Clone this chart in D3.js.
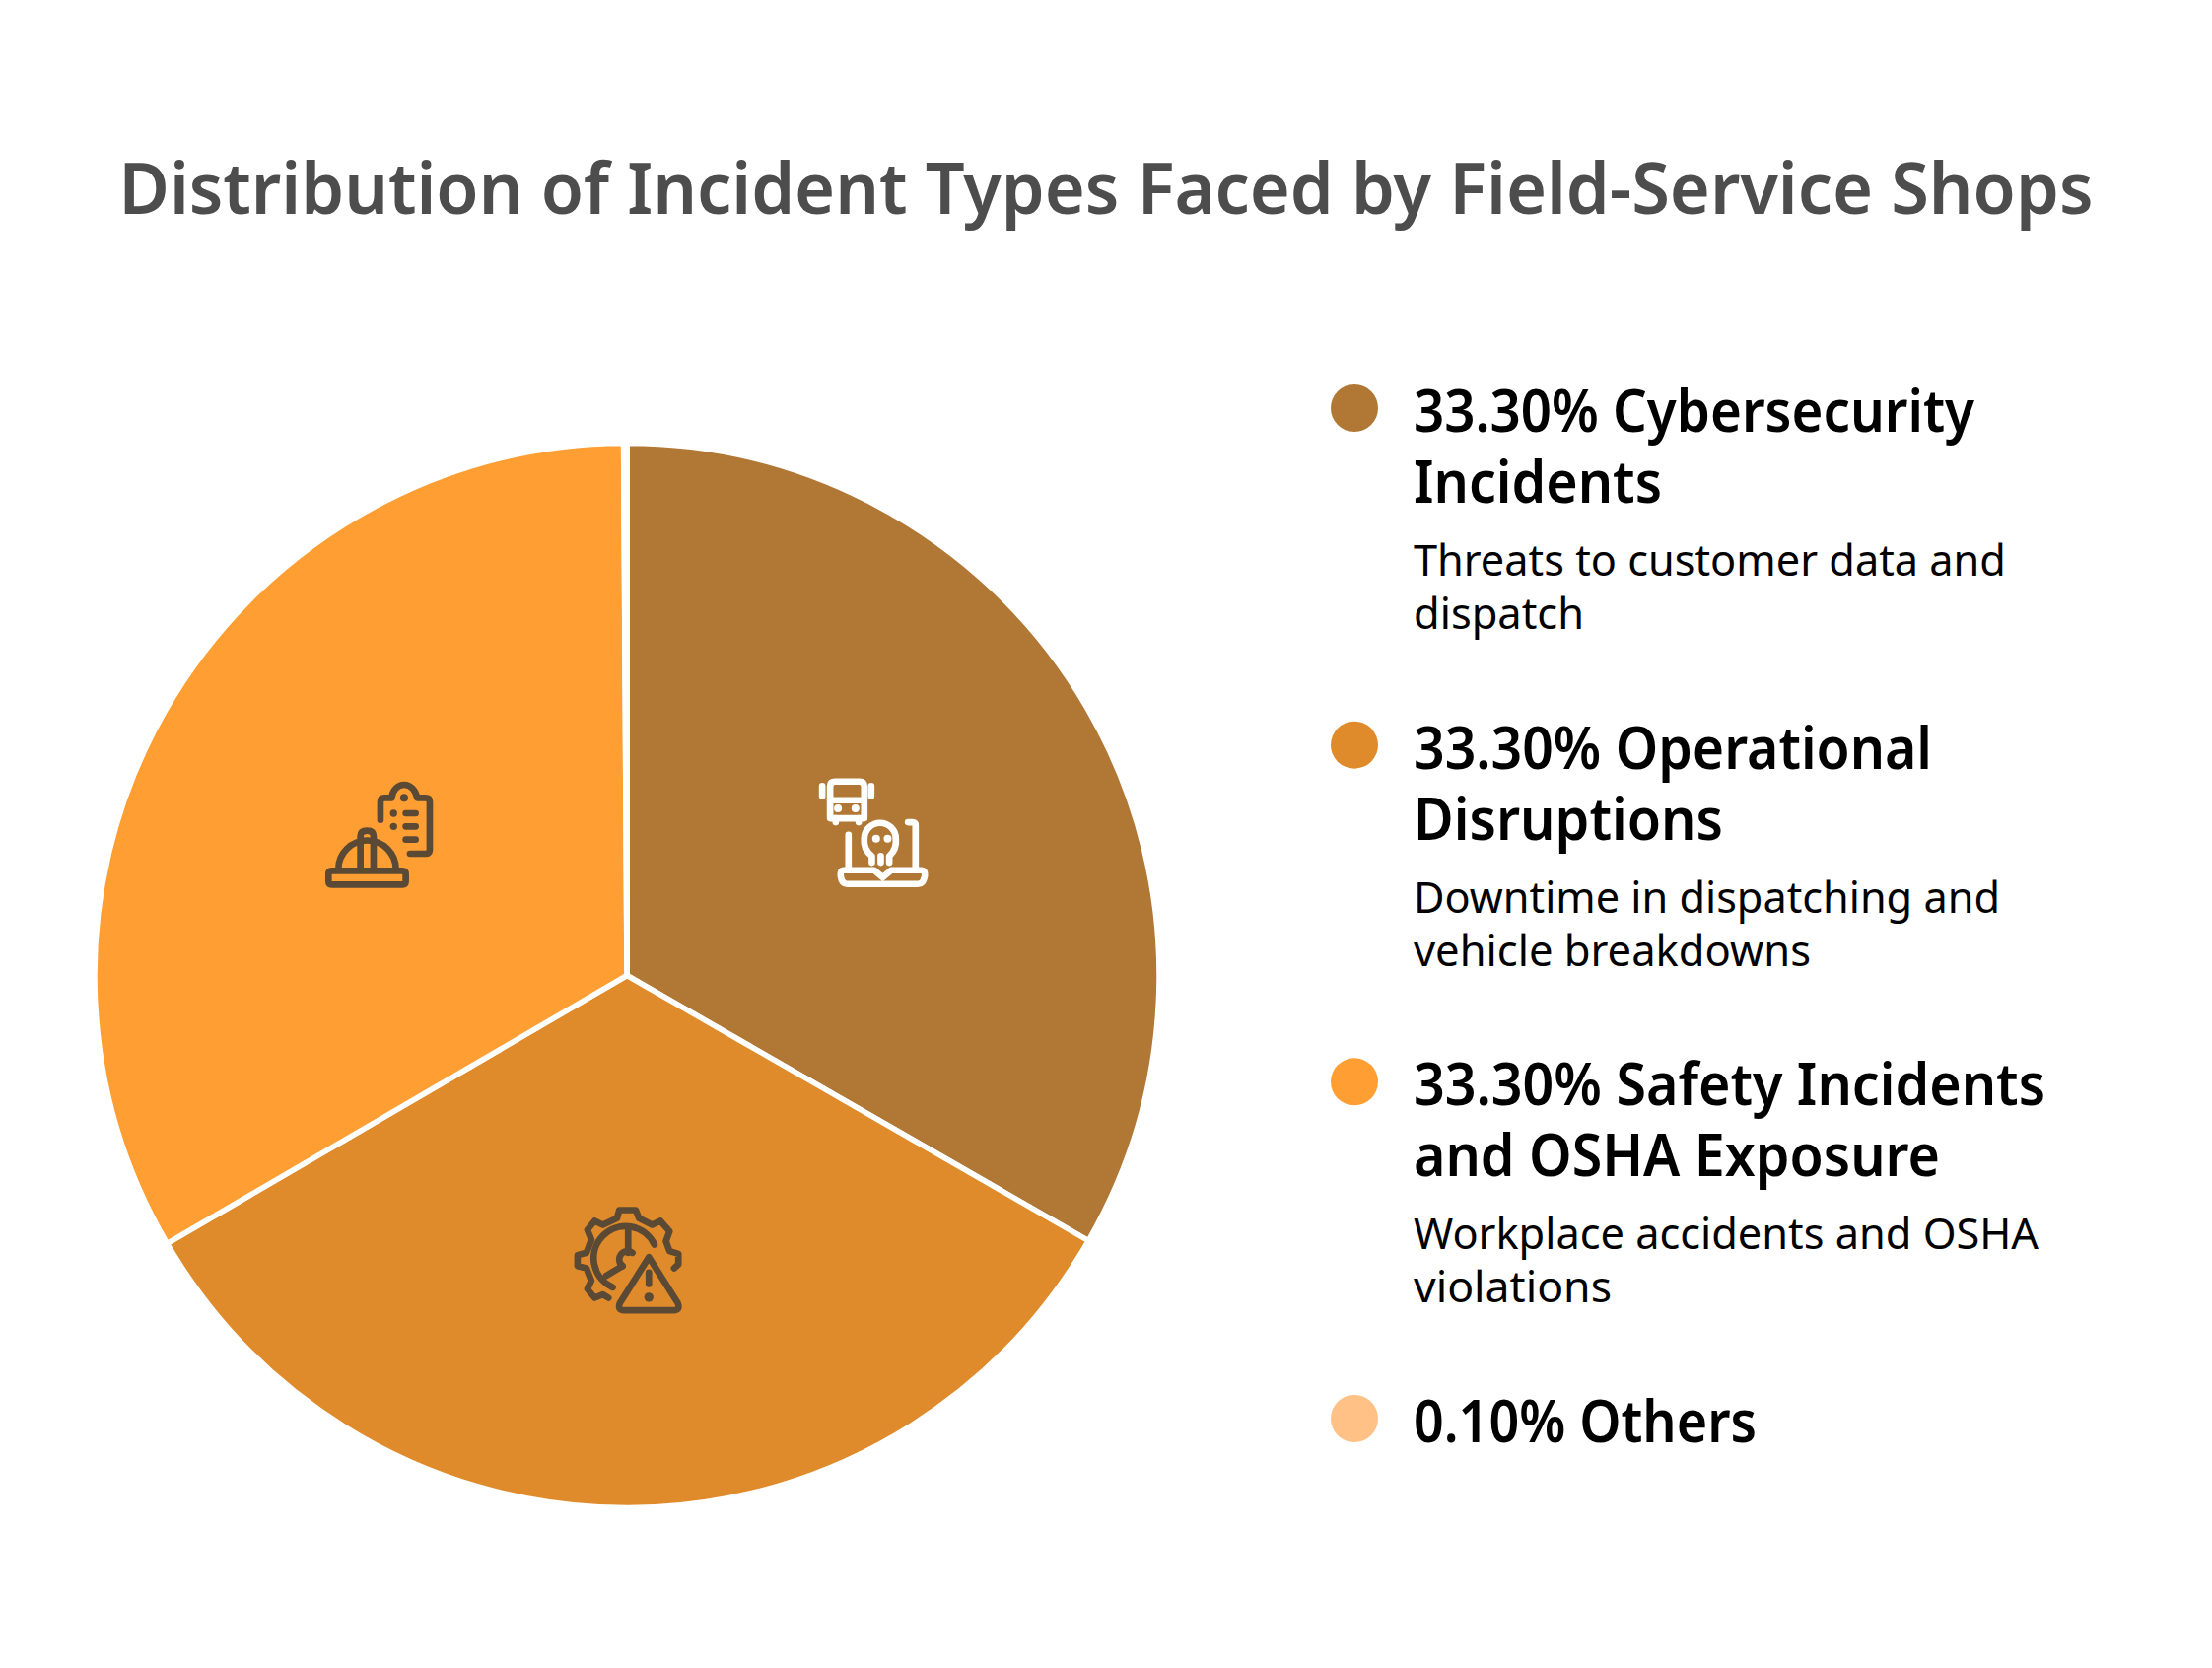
<!DOCTYPE html>
<html>
<head>
<meta charset="utf-8">
<script src="https://cdn.jsdelivr.net/npm/d3@7"></script>
<style>
html,body{margin:0;padding:0;background:#fff}
svg{display:block}
text{font-family:"Noto Sans",sans-serif}
</style>
</head>
<body>
<div id="chart"></div>
<script>
const titleText = "Distribution of Incident Types Faced by Field-Service Shops";
const categories = ["Cybersecurity Incidents", "Operational Disruptions", "Safety Incidents and OSHA Exposure", "Others"];
const shares = [33.3, 33.3, 33.3, 0.1];
const colors = ["#b07735", "#e08b2b", "#ff9e33", "#ffc185"];
const headingLines = [
  ["33.30% Cybersecurity", "Incidents"],
  ["33.30% Operational", "Disruptions"],
  ["33.30% Safety Incidents", "and OSHA Exposure"],
  ["0.10% Others"]
];
const noteLines = [
  ["Threats to customer data and", "dispatch"],
  ["Downtime in dispatching and", "vehicle breakdowns"],
  ["Workplace accidents and OSHA", "violations"],
  []
];

const W = 2244, H = 1692;
const cx = 636, cy = 989.5, R = 540;
const svg = d3.select("#chart").append("svg").attr("width", W).attr("height", H).attr("viewBox", [0, 0, W, H]);

svg.append("text")
  .attr("x", 1122).attr("y", 217)
  .attr("text-anchor", "middle")
  .attr("font-size", 73).attr("font-weight", 600)
  .attr("fill", "#4d4d4d")
  .attr("textLength", 2003).attr("lengthAdjust", "spacingAndGlyphs")
  .text(titleText);

// Pie
const pie = d3.pie().sort(null).value(d => d);
const arc = d3.arc().innerRadius(0).outerRadius(R);
const iconArc = d3.arc().innerRadius(289).outerRadius(289);
const arcs = pie(shares);
const plot = svg.append("g").attr("transform", `translate(${cx},${cy})`);
plot.selectAll("path.slice").data(arcs).join("path")
  .attr("class", "slice")
  .attr("d", arc)
  .attr("fill", (d, i) => colors[i])
  .attr("stroke", "#fff").attr("stroke-width", 5.5).attr("stroke-linejoin", "round");

// Line icons, sketched on a 3x grid around their own centres
const iconDark = "#5a4935";
const icons = [
  {
    stroke: "#fff", origin: [260, 254], width: 20,
    paths: [
      "M143,98H217Q232,98 232,113V210H128V113Q128,98 143,98Z", "M128,155H232",
      "M145,210V222", "M215,210V222", "M104,112V142", "M253,112V142",
      "M184,260V365", "M365,222H378Q388,222 388,232V365",
      "M170,368H262L288,390L314,368H405Q418,368 416,385Q412,410 395,410H180Q163,410 160,385Q158,368 170,368Z",
      "M255,345V325C235,310 230,290 232,272A48,48 0 0 1 328,272C330,290 325,310 308,325V345",
      "M282,325V345"
    ],
    dots: [[152, 180, 12], [205, 180, 12], [268, 272, 12], [303, 272, 12]]
  },
  {
    stroke: iconDark, origin: [231, 238], width: 20,
    paths: [
      "M372,262L385,250V218L358,210L347,180L358,150L330,118L305,130L265,110L255,85H205L198,110L155,130L130,118L108,145L120,175L105,215L78,222V255L105,262L120,300L108,325L130,352L155,342L172,352",
      "M185,320A97,97 0 1 1 312,190", "M232,145V215", "M245,215A22,22 0 0 0 215,255", "M215,255L165,285",
      "M295,228L383,368Q392,390 370,390H220Q198,390 207,368Z", "M295,275V310"
    ],
    dots: [[295, 350, 14]]
  },
  {
    stroke: iconDark, origin: [225, 229], width: 20,
    paths: [
      "M80,340H295Q305,340 305,350V372Q305,382 295,382H80Q70,382 70,372V350Q70,340 80,340Z",
      "M100,335A87,87 0 0 1 275,335",
      "M167,335V235Q167,218 187,218Q207,218 207,235V335",
      "M228,185V130Q228,118 240,118H262C265,95 280,78 300,78C320,78 335,95 340,118H365Q378,118 378,130V275Q378,288 365,288H318",
      "M305,165H335", "M305,205H335", "M305,245H335"
    ],
    dots: [[300, 118, 12], [268, 165, 11], [268, 205, 11]]
  }
];
icons.forEach((icon, i) => {
  const [x, y] = iconArc.centroid(arcs[i]);
  const g = plot.append("g").attr("transform", `translate(${x},${y}) scale(${1 / 3}) translate(${-icon.origin[0]},${-icon.origin[1]})`);
  g.selectAll("path").data(icon.paths).join("path")
    .attr("d", d => d).attr("fill", "none").attr("stroke", icon.stroke)
    .attr("stroke-width", icon.width).attr("stroke-linecap", "round").attr("stroke-linejoin", "round");
  g.selectAll("circle").data(icon.dots).join("circle")
    .attr("cx", d => d[0]).attr("cy", d => d[1]).attr("r", d => d[2]).attr("fill", icon.stroke);
});

// Legend
const legendTop = d3.scalePoint().domain(categories).range([437, 1462]);
const headWidths = [569, 526, 641, 348];
const headWidths2 = [252, 314, 534, 0];
const noteWidths = [601, 595, 634];
const noteWidths2 = [173, 403, 201];
categories.forEach((c, i) => {
  const y = legendTop(c);
  const g = svg.append("g");
  g.append("circle").attr("cx", 1374).attr("cy", y - 23).attr("r", 24).attr("fill", colors[i]);
  headingLines[i].forEach((line, j) => {
    g.append("text").attr("x", 1434).attr("y", y + 1 + j * 72)
      .attr("font-size", 59).attr("font-weight", 600).attr("fill", "#000")
      .attr("textLength", j ? headWidths2[i] : headWidths[i]).attr("lengthAdjust", "spacingAndGlyphs")
      .text(line);
  });
  noteLines[i].forEach((line, j) => {
    g.append("text").attr("x", 1434).attr("y", y + 147 + j * 54)
      .attr("font-size", 44).attr("font-weight", 400).attr("fill", "#000")
      .attr("textLength", j ? noteWidths2[i] : noteWidths[i]).attr("lengthAdjust", "spacingAndGlyphs")
      .text(line);
  });
});
</script>
</body>
</html>
